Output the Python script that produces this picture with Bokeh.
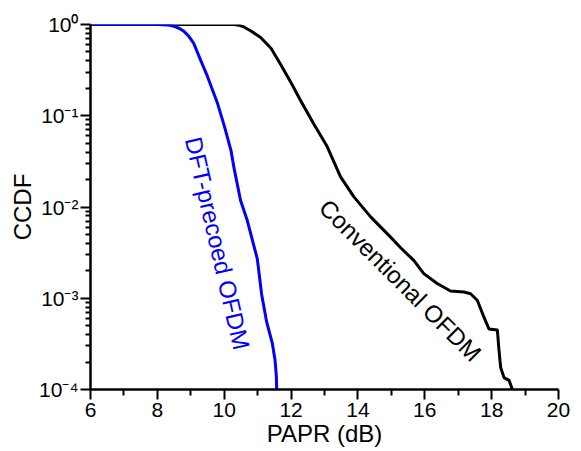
from bokeh.plotting import figure
from bokeh.models import CustomJSTickFormatter, FixedTicker, Range1d
from bokeh.embed import file_html
from bokeh.resources import INLINE
from bokeh.core.properties import value

# ---- data ----
papr_dft = [6.0, 8.0, 8.3, 8.5, 8.65, 8.78, 8.93, 9.09, 9.29, 9.49, 9.79, 10.0, 10.2, 10.3,
            10.49, 10.69, 10.99, 11.12, 11.27, 11.44, 11.52, 11.56, 11.57]
ccdf_dft = [1.0, 1.0, 0.99, 0.955, 0.91, 0.85, 0.75, 0.62, 0.41, 0.275, 0.14, 0.078, 0.042, 0.026,
            0.0118, 0.0071, 0.0027, 0.0011, 5.5e-4, 3.2e-4, 2.1e-4, 1.4e-4, 1.0e-4]

papr_conv = [6.0, 10.29, 10.45, 10.59, 10.8, 11.09, 11.4, 11.68, 12.0, 12.28, 12.68, 13.08, 13.48,
             13.88, 14.38, 14.97, 15.27, 15.67, 15.97, 16.37, 16.77, 17.17, 17.37,
             17.57, 17.77, 17.92, 18.17, 18.22, 18.27, 18.37, 18.52, 18.62]
ccdf_conv = [1.0, 1.0, 0.98, 0.94, 0.85, 0.72, 0.55, 0.37, 0.23, 0.148, 0.081, 0.046, 0.0214,
             0.0129, 0.0078, 0.0047, 0.0036, 0.0026, 0.00186, 0.00145, 0.0012, 0.00117,
             0.00112, 0.00095, 0.00062, 0.00046, 0.00045, 0.00027, 0.000174, 0.000135,
             0.000126, 0.0001]

x_ticks = [6, 8, 10, 12, 14, 16, 18, 20]
x_minor = [7, 9, 11, 13, 15, 17, 19]
y_ticks = [1e-4, 1e-3, 1e-2, 1e-1, 1.0]
y_minor = [k * 10.0 ** e for e in range(-4, 0) for k in range(2, 10)]

label_dft = "DFT-precoed OFDM"
label_conv = "Conventional OFDM"

FONT = "Liberation Sans"

p = figure(width=581, height=451, y_axis_type="log",
           x_range=Range1d(6, 20), y_range=Range1d(1e-4, 1.0),
           output_backend="svg", toolbar_location=None,
           min_border_left=90, min_border_right=23,
           min_border_top=24, min_border_bottom=62)

p.outline_line_color = None
p.xgrid.visible = False
p.ygrid.visible = False
p.background_fill_color = "white"
p.border_fill_color = "white"

p.line(papr_conv, ccdf_conv, line_color="black", line_width=3, line_join="round")
p.line(papr_dft, ccdf_dft, line_color="#0000FF", line_width=3, line_join="round")

p.text(x=[9.80], y=[0.0040], text=[label_dft], angle=-77, angle_units="deg",
       text_color="#0000FF", text_font=value(FONT), text_font_size="24px",
       text_align="center", text_baseline="middle")
p.text(x=[15.27], y=[0.00157], text=[label_conv], angle=-45, angle_units="deg",
       text_color="black", text_font=value(FONT), text_font_size="24px",
       text_align="center", text_baseline="middle")

p.xaxis.ticker = FixedTicker(ticks=x_ticks, minor_ticks=x_minor)
p.yaxis.ticker = FixedTicker(ticks=y_ticks, minor_ticks=y_minor)
p.yaxis.formatter = CustomJSTickFormatter(code="""
const sup = {"-":"\u207b","0":"\u2070","1":"\u00b9","2":"\u00b2","3":"\u00b3",
             "4":"\u2074","5":"\u2075","6":"\u2076","7":"\u2077","8":"\u2078","9":"\u2079"};
const e = Math.round(Math.log10(tick));
return "10" + String(e).split("").map(c => sup[c]).join("");
""")

for ax in (p.xaxis[0], p.yaxis[0]):
    ax.axis_line_width = 2.5
    ax.axis_line_color = "black"
    ax.major_tick_line_width = 2
    ax.minor_tick_line_width = 2
    ax.major_tick_line_color = "black"
    ax.minor_tick_line_color = "black"
    ax.major_tick_in = 0
    ax.major_tick_out = 10
    ax.minor_tick_in = 0
    ax.major_label_text_font = FONT
    ax.major_label_text_font_size = "21px"
    ax.major_label_text_color = "black"
    ax.axis_label_text_font = FONT
    ax.axis_label_text_font_size = "24px"
    ax.axis_label_text_font_style = "normal"
    ax.axis_label_text_color = "black"

p.xaxis.minor_tick_out = 6
p.yaxis.minor_tick_out = 5
p.xaxis.axis_label = "PAPR (dB)"
p.yaxis.axis_label = "CCDF"
p.xaxis.major_label_standoff = 3
p.xaxis.axis_label_standoff = 0
p.yaxis.major_label_standoff = 2
p.yaxis.axis_label_standoff = 0

open("out.html", "w").write(file_html(p, INLINE))
